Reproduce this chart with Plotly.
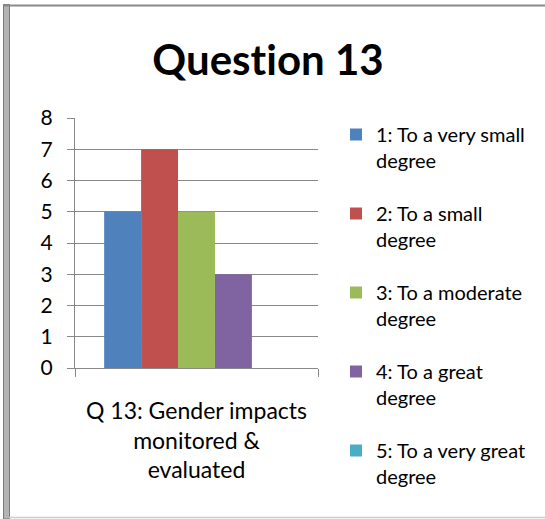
import plotly.graph_objects as go

categories = ["Q 13: Gender impacts<br>monitored &<br>evaluated"]
series_names = [
    "1: To a very small<br>degree",
    "2: To a small<br>degree",
    "3: To a moderate<br>degree",
    "4: To a great<br>degree",
    "5: To a very great<br>degree",
]
series_values = [5, 7, 5, 3, 0]
series_colors = ["#4F81BD", "#C0504D", "#9BBB59", "#8064A2", "#4BACC6"]
y_ticks = [0, 1, 2, 3, 4, 5, 6, 7, 8]

FONT = "Lato"
GRID = "#888888"

# plot area in pixels
L, R, T, B = 75, 318, 118, 368
W, H = 545, 519


def px_x(p):
    return (p - L) / (R - L)


def px_y(p):
    return (B - p) / (B - T)


fig = go.Figure()
for i, (name, val, col) in enumerate(zip(series_names, series_values, series_colors)):
    fig.add_trace(go.Bar(
        x=categories, y=[val], name=name,
        marker=dict(color=col, line=dict(width=0)),
        legendgroup=f"g{i}",
    ))

shapes = [
    # left double border
    dict(type="rect", xref="paper", yref="paper",
         x0=px_x(3.5), x1=px_x(9.5), y0=px_y(519), y1=px_y(4.5),
         fillcolor="#b4b4b4", line=dict(color="#7a7a7a", width=1), layer="above"),
    # top border
    dict(type="line", xref="paper", yref="paper",
         x0=px_x(4), x1=px_x(545), y0=px_y(5.5), y1=px_y(5.5),
         line=dict(color="#8a8a8a", width=2)),
    # bottom border
    dict(type="line", xref="paper", yref="paper",
         x0=px_x(9), x1=px_x(545), y0=px_y(517.5), y1=px_y(517.5),
         line=dict(color="#cccccc", width=1.5)),
]

fig.update_layout(
    width=W, height=H,
    autosize=False,
    margin=dict(l=L, r=W - R, t=T, b=H - B, pad=0),
    paper_bgcolor="white", plot_bgcolor="white",
    font=dict(family=FONT, color="#000000"),
    barmode="group", bargap=0.24, bargroupgap=0,
    title=dict(text="<b>Quest\u200cion 13</b>", font=dict(family=FONT, size=42, color="#000000"),
               x=268 / W, xref="container", xanchor="center",
               y=1 - 60 / H, yref="container", yanchor="middle"),
    xaxis=dict(type="category", range=[-0.5, 0.5], showgrid=False,
               showline=True, linecolor=GRID, linewidth=1,
               ticks="outside", tickson="boundaries", ticklen=8, tickcolor=GRID,
               tickfont=dict(family=FONT, size=23, color="#000000"),
               ticklabelstandoff=22, fixedrange=True),
    yaxis=dict(range=[0, 8], tickvals=y_ticks, showgrid=True, gridcolor=GRID, gridwidth=1,
               showline=True, linecolor=GRID, linewidth=1, zeroline=False,
               ticks="outside", ticklen=7, tickcolor=GRID,
               tickfont=dict(family=FONT, size=21, color="#000000"),
               ticklabelstandoff=10, fixedrange=True),
    legend=dict(x=px_x(336), xanchor="left", y=px_y(115), yanchor="top",
                valign="top", tracegroupgap=24, traceorder="grouped",
                maxheight=420,
                font=dict(family=FONT, size=20, color="#000000"),
                bgcolor="rgba(0,0,0,0)"),
    shapes=shapes,
    showlegend=True,
)

fig.write_html("out.html", config={"displayModeBar": False},
               post_script="document.body.style.margin='0';")
